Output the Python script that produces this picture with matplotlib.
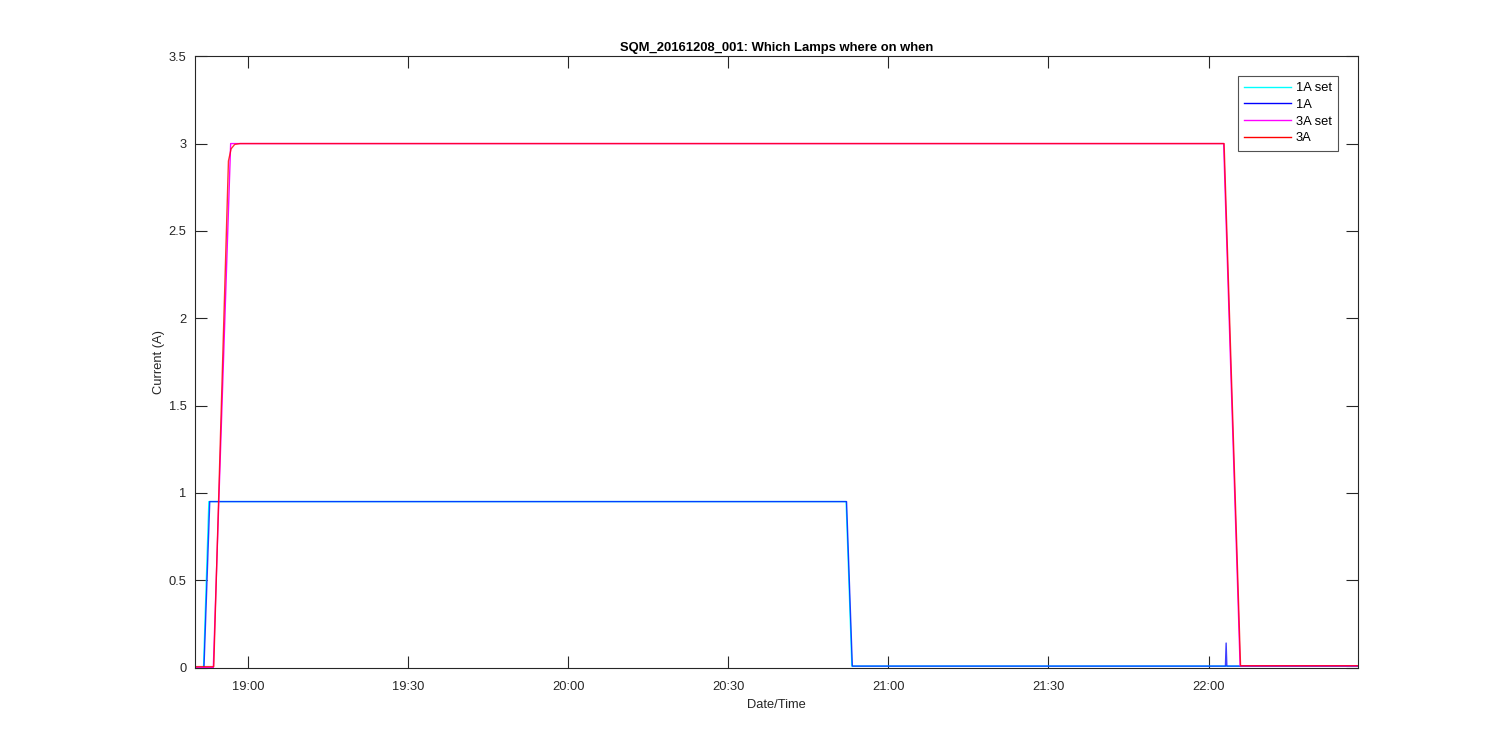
import datetime
import matplotlib
matplotlib.use("Agg")
import matplotlib.pyplot as plt
import matplotlib.dates as mdates

plt.rcParams['font.family'] = ['Liberation Sans', 'DejaVu Sans']

day = "2016-12-08"

# 1A set (cyan)
t_1a_set = ["18:50:00", "18:51:40", "18:52:40", "20:52:05", "20:53:10", "22:28:00"]
v_1a_set = [0.0, 0.0, 0.95, 0.95, 0.008, 0.008]

# 1A measured (blue)
t_1a = ["18:50:00", "18:51:45", "18:52:50", "20:52:10", "20:53:15",
        "22:03:10", "22:03:18", "22:03:26", "22:28:00"]
v_1a = [0.0, 0.0, 0.95, 0.95, 0.008, 0.008, 0.14, 0.008, 0.008]

# 3A set (magenta)
t_3a_set = ["18:50:00", "18:53:30", "18:56:45", "22:02:50", "22:05:55", "22:28:00"]
v_3a_set = [0.0, 0.0, 3.0, 3.0, 0.01, 0.01]

# 3A measured (red)
t_3a = ["18:50:00", "18:53:35", "18:56:20", "18:56:50", "18:57:30", "18:58:30",
        "22:02:55", "22:06:00", "22:28:00"]
v_3a = [0.005, 0.005, 2.9, 2.97, 2.995, 3.0, 3.0, 0.01, 0.01]

x_min = "18:50:04"
x_max = "22:27:55"
tick_times = ["19:00", "19:30", "20:00", "20:30", "21:00", "21:30", "22:00"]


def to_dt(ts):
    fmt = "%Y-%m-%d %H:%M:%S" if ts.count(":") == 2 else "%Y-%m-%d %H:%M"
    return datetime.datetime.strptime(day + " " + ts, fmt)


def conv(lst):
    return [to_dt(s) for s in lst]


txt = (0.15, 0.15, 0.15)
fs = 9.3
fig = plt.figure(figsize=(15, 7.5), dpi=100)
ax = fig.add_axes([0.13, 0.11, 0.775, 0.815])

ax.plot(conv(t_1a_set), v_1a_set, color='cyan', lw=1.0, label='1A set')
ax.plot(conv(t_1a), v_1a, color='blue', lw=1.0, alpha=0.75, label='1A')
ax.plot(conv(t_3a_set), v_3a_set, color='magenta', lw=1.0, label='3A set')
ax.plot(conv(t_3a), v_3a, color='red', lw=1.0, alpha=0.8, label='3A')

ax.set_xlim(to_dt(x_min), to_dt(x_max))
ax.set_ylim(0, 3.5)
ax.set_xticks(conv(tick_times))
ax.xaxis.set_major_formatter(mdates.DateFormatter("%H:%M"))
ax.set_yticks([0, 0.5, 1, 1.5, 2, 2.5, 3, 3.5])
ax.set_yticklabels(["0", "0.5", "1", "1.5", "2", "2.5", "3", "3.5"])

ax.tick_params(direction='in', length=8.5, width=0.8, top=True, right=True,
               labelsize=fs, colors=txt)
ax.tick_params(axis='x', pad=10)
ax.tick_params(axis='y', pad=6)
for s in ax.spines.values():
    s.set_color(txt)
    s.set_linewidth(0.8)

ax.set_xlabel('Date/Time', fontsize=fs, color=txt, labelpad=4)
ax.set_ylabel('Current (A)', fontsize=fs, color=txt, labelpad=2.5)
ax.set_title('SQM_20161208_001: Which Lamps where on when', fontsize=9.4,
             fontweight='bold', color='black', pad=4)

leg = ax.legend(loc='upper right', fontsize=fs, frameon=True, fancybox=False,
                edgecolor=txt, handlelength=3.6, handletextpad=0.4,
                borderaxespad=1.5, labelspacing=0.36, borderpad=0.5)
leg.get_frame().set_linewidth(0.8)
for h in leg.get_lines():
    h.set_alpha(1.0)

fig.savefig("out.png", dpi=100)
